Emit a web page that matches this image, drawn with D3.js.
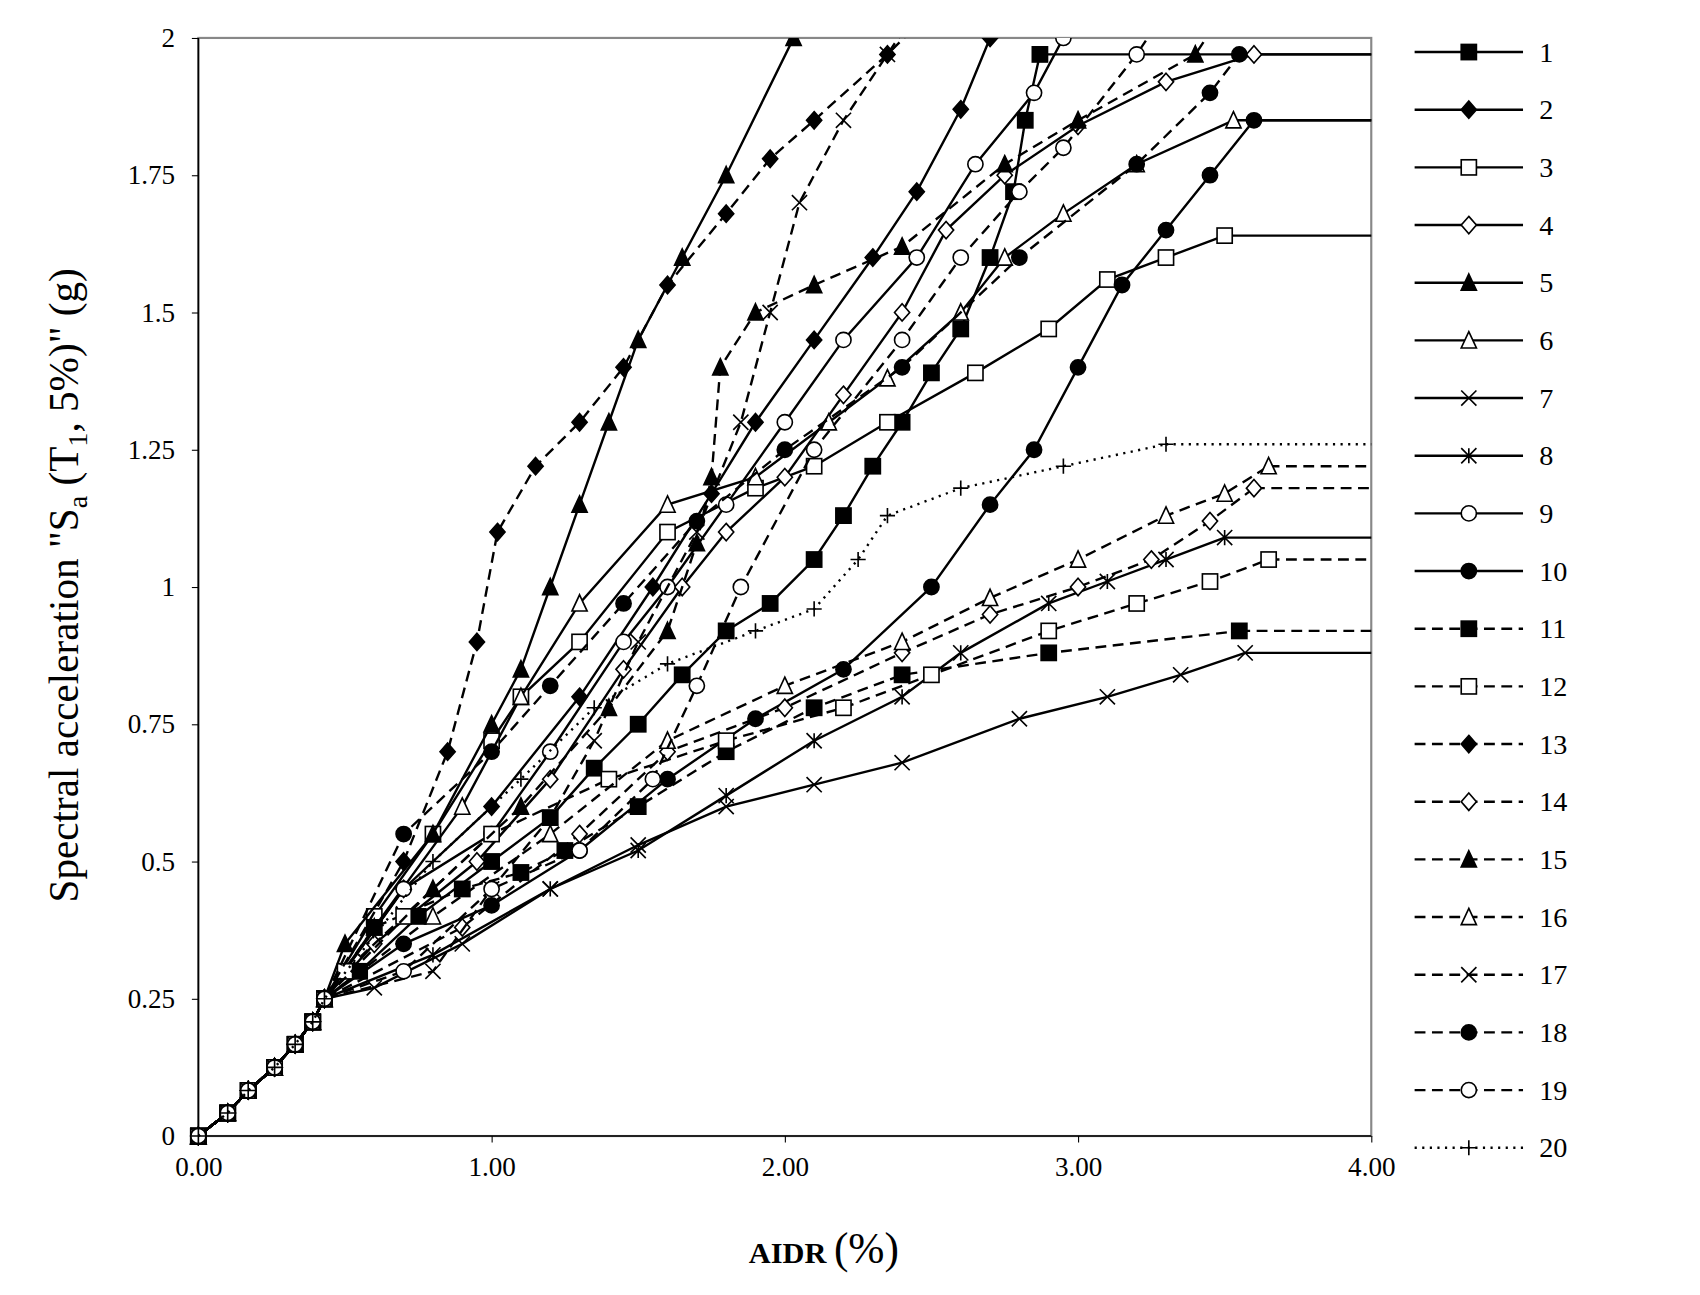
<!DOCTYPE html>
<html><head><meta charset="utf-8">
<script src="https://cdn.jsdelivr.net/npm/d3@7"></script>
<style>body{margin:0;background:#fff}svg{font-family:"Liberation Serif","Times New Roman",serif}</style>
</head><body><svg id="c" width="1700" height="1295"></svg>
<script>
const xTicks=[0,1,2,3,4];
const yTicks=[0,0.25,0.5,0.75,1,1.25,1.5,1.75,2];
const base=[[0,0],[0.1,0.042],[0.17,0.083],[0.26,0.125],[0.33,0.167],[0.39,0.208],[0.43,0.25]];
const names=d3.range(1,21).map(String);
const markers=["sq","dm","sq","dm","tr","tr","x","ast","ci","ci","sq","sq","dm","dm","tr","tr","x","ci","ci","plus"];
const filled=[1,1,0,0,1,0,0,0,0,1,1,0,1,0,1,0,0,1,0,0];
const dashes=["s","s","s","s","s","s","s","s","s","s","d","d","d","d","d","d","d","d","d","o"];
const flatEnd=[1.97,null,1.64,1.97,null,1.85,0.88,1.09,null,1.85,0.92,1.05,null,1.18,null,1.22,null,null,null,1.26];
const c1=[[0.55,0.3],[0.75,0.4],[1.0,0.5],[1.2,0.58],[1.35,0.67],[1.5,0.75],[1.65,0.84],[1.8,0.92],[1.95,0.97],[2.1,1.05],[2.2,1.13],[2.3,1.22],[2.4,1.3],[2.5,1.39],[2.6,1.47],[2.7,1.6],[2.78,1.72],[2.82,1.85],[2.87,1.97]];
const c2=[[0.7,0.45],[1.0,0.6],[1.3,0.8],[1.55,1.0],[1.75,1.17],[1.9,1.3],[2.1,1.45],[2.3,1.6],[2.45,1.72],[2.6,1.87],[2.7,2.0]];
const c3=[[0.6,0.4],[0.8,0.55],[1.0,0.72],[1.1,0.8],[1.3,0.9],[1.6,1.1],[1.9,1.18],[2.1,1.22],[2.35,1.3],[2.65,1.39],[2.9,1.47],[3.1,1.56],[3.3,1.6],[3.5,1.64]];
const c4=[[0.6,0.35],[0.95,0.5],[1.2,0.65],[1.45,0.85],[1.65,1.0],[1.8,1.1],[2.0,1.2],[2.2,1.35],[2.4,1.5],[2.55,1.65],[2.75,1.75],[3.0,1.84],[3.3,1.92],[3.6,1.97]];
const c5=[[0.5,0.35],[0.8,0.55],[1.0,0.75],[1.1,0.85],[1.2,1.0],[1.3,1.15],[1.4,1.3],[1.5,1.45],[1.65,1.6],[1.8,1.75],[2.03,2.0]];
const c6=[[0.6,0.38],[0.9,0.6],[1.1,0.8],[1.3,0.97],[1.6,1.15],[1.9,1.2],[2.15,1.3],[2.35,1.38],[2.6,1.5],[2.75,1.6],[2.95,1.68],[3.2,1.77],[3.53,1.85]];
const c7=[[0.6,0.27],[0.9,0.35],[1.2,0.45],[1.5,0.53],[1.8,0.6],[2.1,0.64],[2.4,0.68],[2.8,0.76],[3.1,0.8],[3.35,0.84],[3.57,0.88]];
const c8=[[0.8,0.33],[1.2,0.45],[1.5,0.52],[1.8,0.62],[2.1,0.72],[2.4,0.8],[2.6,0.88],[2.9,0.97],[3.1,1.01],[3.3,1.05],[3.5,1.09]];
const c9=[[0.7,0.45],[1.0,0.55],[1.2,0.7],[1.45,0.9],[1.6,1.0],[1.8,1.15],[2.0,1.3],[2.2,1.45],[2.45,1.6],[2.65,1.77],[2.85,1.9],[2.95,2.0]];
const c10=[[0.7,0.35],[1.0,0.42],[1.3,0.52],[1.6,0.65],[1.9,0.76],[2.2,0.85],[2.5,1.0],[2.7,1.15],[2.85,1.25],[3.0,1.4],[3.15,1.55],[3.3,1.65],[3.45,1.75],[3.6,1.85]];
const c11=[[0.6,0.38],[0.9,0.45],[1.1,0.48],[1.25,0.52],[1.5,0.6],[1.8,0.7],[2.1,0.78],[2.4,0.84],[2.9,0.88],[3.55,0.92]];
const c12=[[0.5,0.3],[0.7,0.4],[1.0,0.55],[1.4,0.65],[1.8,0.72],[2.2,0.78],[2.5,0.84],[2.9,0.92],[3.2,0.97],[3.45,1.01],[3.65,1.05]];
const c13=[[0.7,0.5],[0.85,0.7],[0.95,0.9],[1.02,1.1],[1.15,1.22],[1.3,1.3],[1.45,1.4],[1.6,1.55],[1.8,1.68],[1.95,1.78],[2.1,1.85],[2.35,1.97],[2.5,2.05]];
const c14=[[0.9,0.38],[1.3,0.55],[1.6,0.7],[2.0,0.78],[2.4,0.88],[2.7,0.95],[3.0,1.0],[3.25,1.05],[3.45,1.12],[3.6,1.18]];
const c15=[[0.8,0.45],[1.1,0.6],[1.4,0.78],[1.6,0.92],[1.7,1.08],[1.75,1.2],[1.78,1.4],[1.9,1.5],[2.1,1.55],[2.4,1.62],[2.75,1.77],[3.0,1.85],[3.4,1.97],[3.5,2.05]];
const c16=[[0.8,0.4],[1.2,0.55],[1.6,0.72],[2.0,0.82],[2.4,0.9],[2.7,0.98],[3.0,1.05],[3.3,1.13],[3.5,1.17],[3.65,1.22]];
const c17=[[0.8,0.3],[1.0,0.45],[1.2,0.58],[1.35,0.72],[1.5,0.9],[1.7,1.1],[1.85,1.3],[1.95,1.5],[2.05,1.7],[2.2,1.85],[2.35,1.97],[2.45,2.05]];
const c18=[[0.7,0.55],[1.0,0.7],[1.2,0.82],[1.45,0.97],[1.7,1.12],[2.0,1.25],[2.4,1.4],[2.8,1.6],[3.2,1.77],[3.45,1.9],[3.55,1.97]];
const c19=[[0.7,0.3],[1.0,0.45],[1.3,0.52],[1.55,0.65],[1.7,0.82],[1.85,1.0],[2.1,1.25],[2.4,1.45],[2.6,1.6],[2.8,1.72],[2.95,1.8],[3.2,1.97],[3.3,2.05]];
const c20=[[0.8,0.5],[1.1,0.65],[1.35,0.78],[1.6,0.86],[1.9,0.92],[2.1,0.96],[2.25,1.05],[2.35,1.13],[2.6,1.18],[2.95,1.22],[3.3,1.26]];
const curves=[c1,c2,c3,c4,c5,c6,c7,c8,c9,c10,c11,c12,c13,c14,c15,c16,c17,c18,c19,c20];

const svg0=d3.select("#c");
const svg=svg0.append("g").attr("transform","scale(1.084)");
const L=183,R=1265,T=35,B=1048;
const x=d3.scaleLinear().domain([0,4]).range([L,R]);
const y=d3.scaleLinear().domain([0,2]).range([B,T]);
const da={s:null,d:"10,6",o:"2,5"};

const defs=svg0.append("defs");
defs.append("clipPath").attr("id","cp").append("rect").attr("x",L-10).attr("y",T).attr("width",R-L+12).attr("height",B-T+12);

function marker(g,type,fill,cx,cy){
  const s=7, f=fill?"#000":"#fff";
  if(type==="sq") g.append("rect").attr("x",cx-s).attr("y",cy-s).attr("width",2*s).attr("height",2*s).attr("fill",f).attr("stroke","#000").attr("stroke-width",1.5);
  else if(type==="dm") g.append("path").attr("d",`M${cx},${cy-s-1}L${cx+s},${cy}L${cx},${cy+s+1}L${cx-s},${cy}Z`).attr("fill",f).attr("stroke","#000").attr("stroke-width",1.5);
  else if(type==="tr") g.append("path").attr("d",`M${cx},${cy-s-1}L${cx+s},${cy+s}L${cx-s},${cy+s}Z`).attr("fill",f).attr("stroke","#000").attr("stroke-width",1.5);
  else if(type==="ci") g.append("circle").attr("cx",cx).attr("cy",cy).attr("r",s).attr("fill",f).attr("stroke","#000").attr("stroke-width",1.5);
  else if(type==="x") g.append("path").attr("d",`M${cx-s},${cy-s}L${cx+s},${cy+s}M${cx-s},${cy+s}L${cx+s},${cy-s}`).attr("stroke","#000").attr("stroke-width",1.5);
  else if(type==="ast") g.append("path").attr("d",`M${cx-s},${cy-s}L${cx+s},${cy+s}M${cx-s},${cy+s}L${cx+s},${cy-s}M${cx},${cy-s}L${cx},${cy+s}`).attr("stroke","#000").attr("stroke-width",1.5);
  else if(type==="plus") g.append("path").attr("d",`M${cx-s},${cy}L${cx+s},${cy}M${cx},${cy-s}L${cx},${cy+s}`).attr("stroke","#000").attr("stroke-width",1.5);
}

svg.append("rect").attr("x",L).attr("y",T).attr("width",R-L).attr("height",B-T).attr("fill","none").attr("stroke","#888").attr("stroke-width",2);
svg.append("line").attr("x1",L).attr("x2",L).attr("y1",T).attr("y2",B).attr("stroke","#000").attr("stroke-width",1.5);
svg.append("line").attr("x1",L).attr("x2",R).attr("y1",B).attr("y2",B).attr("stroke","#000").attr("stroke-width",1.5);

const gx=svg.append("g").attr("transform",`translate(0,${B})`).call(d3.axisBottom(x).tickValues(xTicks).tickFormat(d3.format(".2f")).tickSize(6).tickSizeOuter(0));
gx.select(".domain").remove();
gx.selectAll("text").attr("font-size",25).attr("font-family","Liberation Serif").attr("dy","1.1em");
const gy=svg.append("g").attr("transform",`translate(${L},0)`).call(d3.axisLeft(y).tickValues(yTicks).tickFormat(d=>String(d)).tickSize(6).tickSizeOuter(0));
gy.select(".domain").remove();
gy.selectAll("text").attr("font-size",25).attr("font-family","Liberation Serif").attr("dx","-0.5em");

const plot=svg.append("g").attr("clip-path","url(#cp)");
curves.forEach((c,i)=>{
  const pts=base.concat(c);
  const line=d3.line().x(d=>x(d[0])).y(d=>y(d[1]));
  plot.append("path").attr("d",line(pts)).attr("fill","none").attr("stroke","#000").attr("stroke-width",2.2).attr("stroke-dasharray",da[dashes[i]]);
  if(flatEnd[i]!=null){
    const last=pts[pts.length-1];
    plot.append("path").attr("d",line([last,[4,flatEnd[i]]])).attr("fill","none").attr("stroke","#000").attr("stroke-width",2.2).attr("stroke-dasharray",da[dashes[i]]);
  }
  pts.forEach(p=>marker(plot,markers[i],filled[i],x(p[0]),y(p[1])));
});

const lg=svg.append("g");
names.forEach((n,i)=>{
  const yy=48+i*53.2;
  lg.append("line").attr("x1",1305).attr("x2",1405).attr("y1",yy).attr("y2",yy).attr("stroke","#000").attr("stroke-width",2.2).attr("stroke-dasharray",da[dashes[i]]);
  marker(lg,markers[i],filled[i],1355,yy);
  lg.append("text").attr("x",1420).attr("y",yy+9).attr("font-size",26).text(n);
});

const xt=svg.append("text").attr("x",760).attr("y",1165).attr("text-anchor","middle");
xt.append("tspan").attr("font-weight","bold").attr("font-size",28).text("AIDR ");
xt.append("tspan").attr("font-size",40).text("(%)");
const yt=svg.append("text").attr("transform","translate(72,540) rotate(-90)").attr("text-anchor","middle").attr("font-size",38);
yt.append("tspan").text('Spectral acceleration  "S');
yt.append("tspan").attr("font-size",26).attr("dy",8).text("a");
yt.append("tspan").attr("dy",-8).text(" (T");
yt.append("tspan").attr("font-size",26).attr("dy",8).text("1");
yt.append("tspan").attr("dy",-8).text(', 5%)"  (g)');
</script></body></html>
